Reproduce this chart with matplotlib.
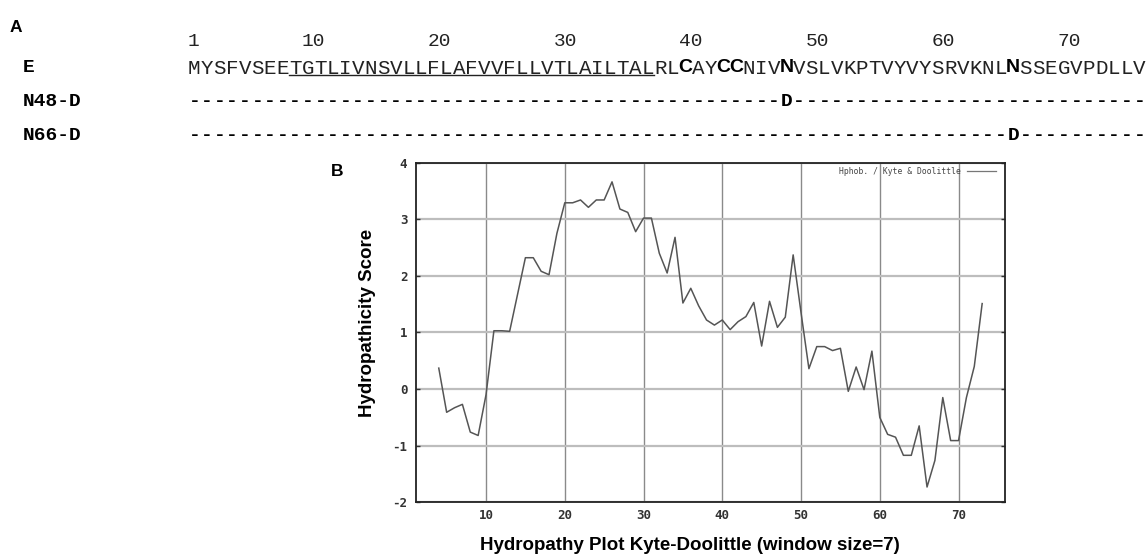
import matplotlib
matplotlib.use("Agg")
import matplotlib.pyplot as plt
from matplotlib.lines import Line2D

# ---------------- data ----------------
sequence = "MYSFVSEETGTLIVNSVLLFLAFVVFLLVTLAILTALRLCAYCCNIVNVSLVKPTVYVYSRVKNLNSSEGVPDLLV"
bold_positions = [40, 43, 44, 48, 66]          # 1-based residues shown in bold
underline_range = (9, 37)                      # underlined residues (inclusive)
ruler_numbers = [1, 10, 20, 30, 40, 50, 60, 70]
row_labels = ["E", "N48-D", "N66-D"]
mutant_sites = {"N48-D": 48, "N66-D": 66}

positions = list(range(4, 74))
scores = [0.37, -0.41, -0.33, -0.27, -0.76, -0.82, -0.10, 1.03, 1.03, 1.02,
          1.67, 2.32, 2.32, 2.08, 2.02, 2.75, 3.29, 3.29, 3.34, 3.21,
          3.34, 3.34, 3.66, 3.18, 3.12, 2.78, 3.02, 3.02, 2.40, 2.05,
          2.68, 1.52, 1.78, 1.47, 1.22, 1.13, 1.22, 1.05, 1.19, 1.28,
          1.53, 0.76, 1.55, 1.09, 1.27, 2.37, 1.35, 0.36, 0.75, 0.75,
          0.68, 0.72, -0.04, 0.39, -0.01, 0.67, -0.50, -0.80, -0.85, -1.17,
          -1.17, -0.65, -1.73, -1.26, -0.15, -0.91, -0.91, -0.15, 0.40, 1.51]
x_ticks = [10, 20, 30, 40, 50, 60, 70]
y_ticks = [-2, -1, 0, 1, 2, 3, 4]
y_tick_labels = ["-2", "-1", "0", "1", "2", "3", "4"]
legend_label = "Hphob. / Kyte & Doolittle"

# ---------------- figure ----------------
W, H = 1147, 555
fig = plt.figure(figsize=(W / 100, H / 100), dpi=100)

def fx(x):
    return x / W

def fy(y):
    return 1 - y / H

# ----- panel A -----
mono = "Liberation Mono"
col0 = 188.0
cw = 12.6
fs_seq = 15

fig.text(fx(10), fy(27), "A", fontsize=12.5, fontweight="bold",
         family="Liberation Sans", va="center", ha="left")

for n in ruler_numbers:
    fig.text(fx(col0 + (n - 1) * cw), fy(42), str(n), fontsize=fs_seq - 1,
             family=mono, va="center", ha="left", color="#222222")

row_y = {"E": 68, "N48-D": 101, "N66-D": 136}
for lab in row_labels:
    fig.text(fx(23), fy(row_y[lab]), lab, fontsize=fs_seq - 1, family=mono,
             fontweight="bold", va="center", ha="left")

for i, ch in enumerate(sequence, start=1):
    cx = col0 + (i - 0.5) * cw
    if i in bold_positions:
        fig.text(fx(cx), fy(row_y["E"]), ch, fontsize=fs_seq - 1,
                 family="Liberation Sans", fontweight="bold",
                 va="center", ha="center")
    else:
        fig.text(fx(cx), fy(row_y["E"]), ch, fontsize=fs_seq, family=mono,
                 va="center", ha="center", color="#222222")

u0, u1 = underline_range
fig.add_artist(Line2D([fx(col0 + (u0 - 1) * cw), fx(col0 + u1 * cw)],
                      [fy(75.5), fy(75.5)], color="#222222", lw=1.0))

for lab, site in mutant_sites.items():
    for i in range(1, len(sequence) + 1):
        cx = col0 + (i - 0.5) * cw
        ch = "D" if i == site else "-"
        fig.text(fx(cx), fy(row_y[lab]), ch, fontsize=fs_seq - 1, family=mono,
                 fontweight="bold", va="center", ha="center")

# ----- panel B -----
ax_l, ax_r, ax_t, ax_b = 415.7, 1005.0, 162.6, 502.3
ax = fig.add_axes([fx(ax_l), fy(ax_b), (ax_r - ax_l) / W, (ax_b - ax_t) / H])
ax.set_xlim(1.07, 75.9)
ax.set_ylim(-2, 4)

ax.xaxis.grid(True, color="#8a8a8a", lw=1.0)
ax.yaxis.grid(True, color="#bdbdbd", lw=1.6)
ax.set_axisbelow(True)

ax.plot(positions, scores, color="#555555", lw=1.1)

ax.set_xticks(x_ticks)
ax.set_yticks(y_ticks)
ax.set_yticklabels(y_tick_labels)
for s in ax.spines.values():
    s.set_color("#222222")
    s.set_linewidth(1.3)
ax.tick_params(direction="in", length=3, width=1, color="#333333",
               right=True, top=False, bottom=False,
               labelsize=9, labelcolor="#333333")
ax.tick_params(axis="y", pad=6)
ax.tick_params(axis="x", pad=5)
for lbl in ax.get_xticklabels() + ax.get_yticklabels():
    lbl.set_family("DejaVu Sans Mono")
    lbl.set_fontweight("bold")

# legend (gnuplot style key)
ax.text(0.925, 0.975, legend_label, transform=ax.transAxes, ha="right",
        va="center", fontsize=5.8, family="DejaVu Sans Mono", color="#444444")
ax.plot([0.935, 0.985], [0.975, 0.975], transform=ax.transAxes,
        color="#777777", lw=0.9)

fig.text(fx(367), fy(323), "Hydropathicity Score", rotation=90,
         fontsize=13.5, fontweight="bold", family="Liberation Sans",
         ha="center", va="center")
fig.text(fx(690), fy(546), "Hydropathy Plot Kyte-Doolittle (window size=7)",
         fontsize=13.5, fontweight="bold", family="Liberation Sans",
         ha="center", va="center")
fig.text(fx(337), fy(172), "B", fontsize=12.5, fontweight="bold",
         family="Liberation Sans", ha="center", va="center")

fig.savefig("out.png", dpi=100, facecolor="white")
